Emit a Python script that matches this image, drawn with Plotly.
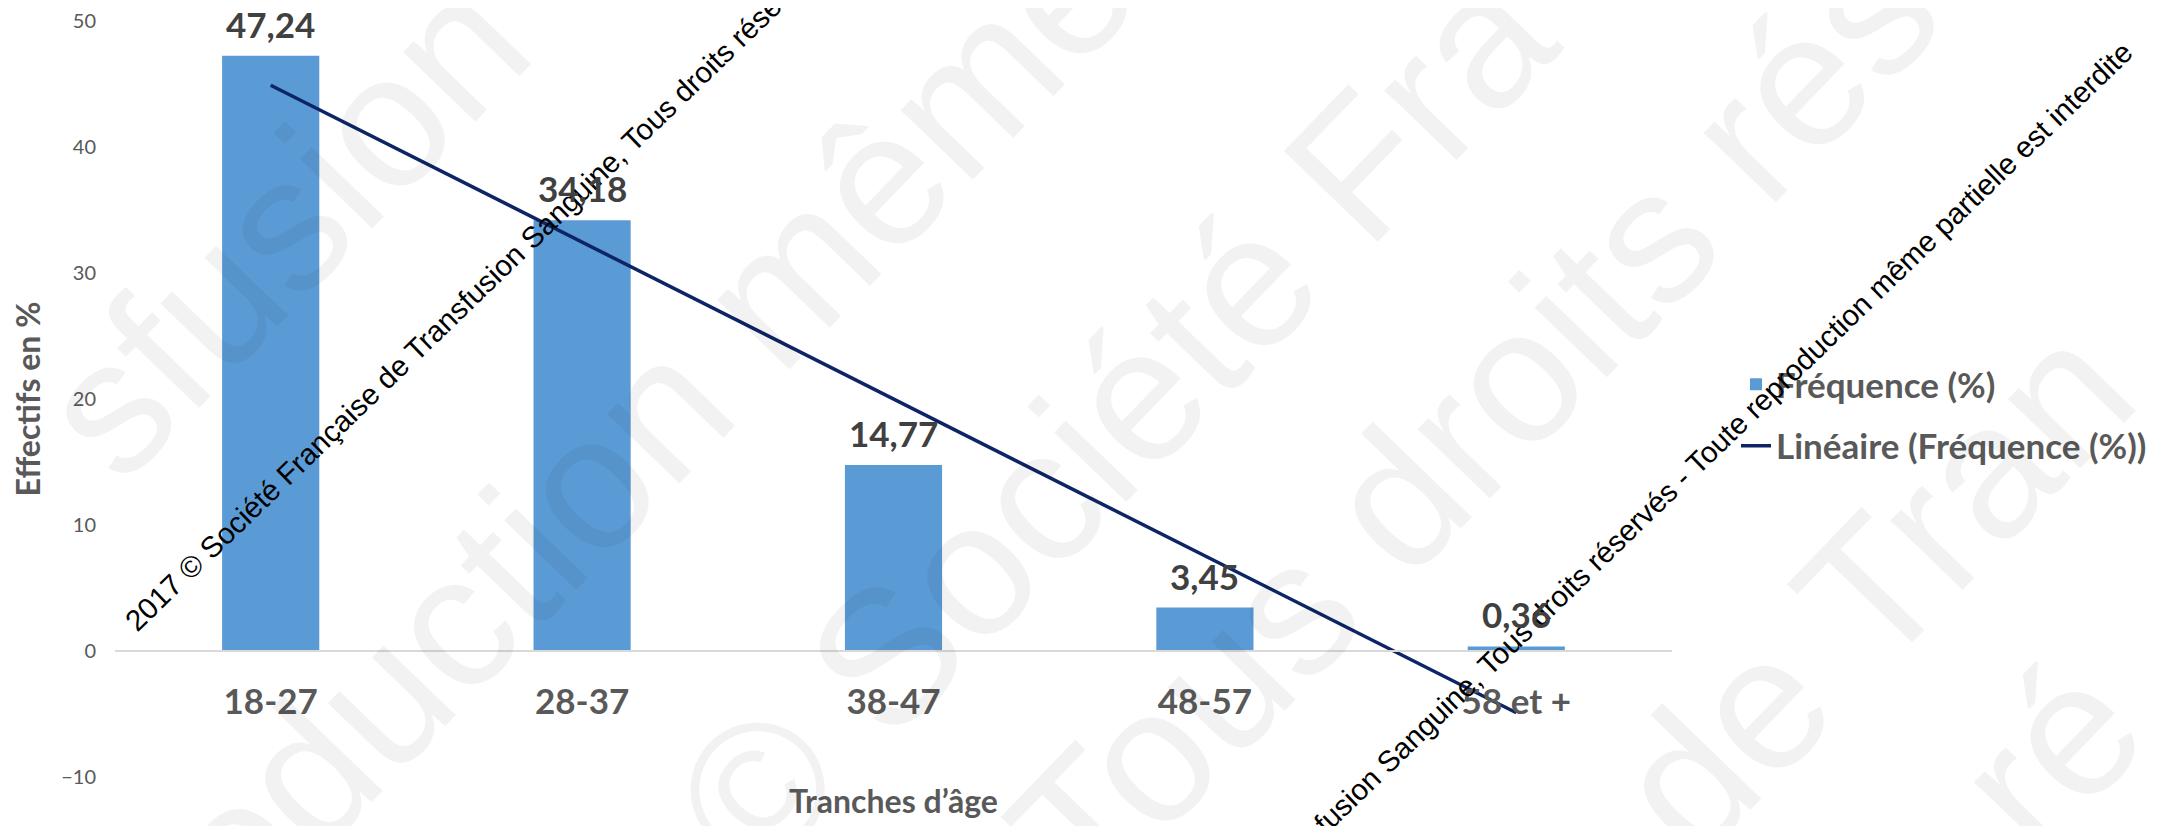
import numpy as np
import plotly.graph_objects as go

# ---------------- data ----------------
categories = ["18-27", "28-37", "38-47", "48-57", "58 et +"]
frequence = [47.24, 34.18, 14.77, 3.45, 0.36]
y_ticks = [-10, 0, 10, 20, 30, 40, 50]
y_range = [-10, 50]
series_name = "Fréquence (%)"
trend_name = "Linéaire (Fréquence (%))"
x_title = "Tranches d’âge"
y_title = "Effectifs en %"
watermark_line = ("2017 © Société Française de Transfusion Sanguine, Tous droits réservés"
                  " - Toute reproduction même partielle est interdite")
grey_fragments = ["sfusion", "oduction même", "© Société Fra", "Tous droits rés", "de Tran", "ré"]

# ---------------- layout constants ----------------
W, H = 2178, 826
ML, MR, MT, MB = 107, 514, 13, 57
PW, PH = W - ML - MR, H - MT - MB


def paper(px, py):
    return (px - ML) / PW, (H - MB - py) / PH


# linear trendline (least squares on category index, as Excel does)
idx = np.arange(1, len(categories) + 1)
slope, intercept = np.polyfit(idx, frequence, 1)
trend = slope * idx + intercept

labels = [f"{v:.2f}".replace(".", ",") for v in frequence]

TXT = "#595959"
FONT = "Lato"

fig = go.Figure()
fig.add_trace(go.Bar(
    x=categories, y=frequence, name=series_name,
    marker=dict(color="#5B9BD5", line=dict(width=0)),
    legendgroup="a",
))
fig.add_trace(go.Scatter(
    x=categories, y=trend, mode="lines", name=trend_name,
    line=dict(color="#0D2466", width=3.5),
    legendgroup="b",
))

annotations = []

# light grey large watermark fragments
grey_pos = [(275, 218), (640, 413), (1105, 413), (1465, 413), (1865, 580), (2040, 747)]
for frag, (px, py) in zip(grey_fragments, grey_pos):
    x, y = paper(px, py)
    annotations.append(dict(
        x=x, y=y, xref="paper", yref="paper", text=frag, showarrow=False,
        textangle=-46, xanchor="center", yanchor="middle",
        font=dict(family="Liberation Sans", size=190, color="rgba(0,0,0,0.05)"),
    ))

# black thin watermark lines
for (px, py) in [(692, 66), (1548, 590)]:
    x, y = paper(px, py)
    annotations.append(dict(
        x=x, y=y, xref="paper", yref="paper", text=watermark_line, showarrow=False,
        textangle=-44, xanchor="center", yanchor="middle",
        font=dict(family="Liberation Sans", size=29.5, color="#000000"),
    ))

# data labels
for c, v, lab in zip(categories, frequence, labels):
    annotations.append(dict(
        x=c, y=v, xref="x", yref="y", text=lab, showarrow=False,
        yanchor="bottom", yshift=9,
        font=dict(family=FONT, size=35, color="#404040", weight="bold"),
    ))

fig.update_layout(
    width=W, height=H,
    margin=dict(l=ML, r=MR, t=MT, b=MB, autoexpand=False),
    paper_bgcolor="white", plot_bgcolor="white",
    bargap=0.688,
    showlegend=True,
    legend=dict(
        x=(1728 - ML) / PW, y=paper(0, 407)[1], xanchor="left", yanchor="middle",
        font=dict(family=FONT, size=35, color=TXT, weight="bold"),
        bgcolor="rgba(0,0,0,0)", traceorder="grouped", tracegroupgap=13,
        itemwidth=30,
    ),
    xaxis=dict(
        type="category", range=[-0.5, len(categories) - 0.5],
        anchor="free", position=(0 - y_range[0]) / (y_range[1] - y_range[0]),
        showline=True, linecolor="#D9D9D9", linewidth=2,
        ticks="", showgrid=False, zeroline=False,
        tickfont=dict(family=FONT, size=35, color=TXT, weight="bold"),
        ticklabelstandoff=20,
        title=dict(text=x_title, standoff=70,
                   font=dict(family=FONT, size=32, color=TXT, weight="bold")),
        automargin=False,
    ),
    yaxis=dict(
        range=y_range, tickvals=y_ticks, showgrid=False, zeroline=False,
        showline=False, ticks="",
        tickfont=dict(family=FONT, size=20, color=TXT),
        ticklabelstandoff=18,
        title=dict(text=y_title, standoff=18,
                   font=dict(family=FONT, size=32, color=TXT, weight="bold")),
        automargin=False,
    ),
    annotations=annotations,
)

fig.write_html("out.html")
